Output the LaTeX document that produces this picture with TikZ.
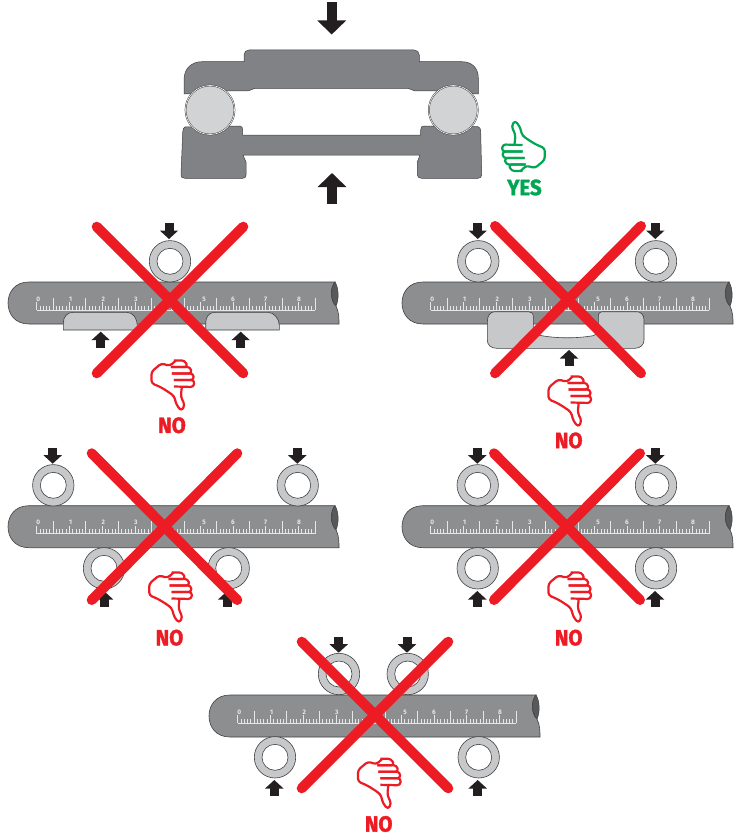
\documentclass[tikz,border=0pt]{standalone}
\usepackage{fontspec}
\setmainfont{Fira Sans}
\newfontfamily\verdictfont{Fira Sans Bold}[FakeBold=1.6,FakeStretch=0.93]
\usepackage{xcolor}
\usepackage{tikz}
\usetikzlibrary{arrows.meta}
\definecolor{plategray}{HTML}{808285}
\definecolor{shaftgray}{HTML}{8C8E90}
\definecolor{ballgray}{HTML}{D1D3D4}
\definecolor{ringgray}{HTML}{C7C8CA}
\definecolor{edgedark}{HTML}{414042}
\definecolor{breakdark}{HTML}{58595B}
\definecolor{arrowblack}{HTML}{231F20}
\definecolor{tickwhite}{HTML}{E6E7E8}
\definecolor{noaccent}{HTML}{ED1C24}
\definecolor{yesaccent}{HTML}{00A651}
\tikzset{
  plate/.style={draw=edgedark, line width=0.5pt, fill=plategray},
  ball/.style={circle, draw=edgedark, line width=0.5pt, fill=ballgray, double=white, minimum size=49pt, inner sep=0pt},
  support/.style={draw=edgedark, line width=0.6pt, fill=ringgray},
  bigarrow/.style={-{Triangle[length=14pt,width=28pt]}, line width=10pt, arrowblack},
  pressarrow/.style={-{Triangle[length=8.5pt,width=18pt]}, line width=9pt, arrowblack},
  crossline/.style={line width=10pt, noaccent, line cap=round},
  rulenum/.style={font=\fontsize{6.5}{7}\selectfont\bfseries, text=tickwhite, inner sep=0pt},
  verdict/.style={font=\fontsize{22}{23}\verdictfont, inner sep=0pt},
  pics/shaftbar/.style={code={
    \draw[draw=edgedark, line width=0.6pt, fill=shaftgray] (21,0) -- (327,0)
      .. controls (322,6) and (322,18) .. (328,24)
      .. controls (331,30) and (331,36) .. (331,42)
      -- (21,42) .. controls (7,42) and (0,32) .. (0,21)
      .. controls (0,10) and (7,0) .. (21,0) -- cycle;
    \draw[draw=edgedark, line width=0.5pt, fill=breakdark] (327,0)
      .. controls (322,6) and (322,18) .. (328,24)
      .. controls (331,18) and (331,6) .. (327,0) -- cycle;
    \draw[tickwhite, line width=1pt] (28.7,28) -- (307,28);
    \foreach \i in {0,...,85} {
      \pgfmathsetmacro{\tickx}{28.7+\i*3.274}
      \pgfmathsetmacro{\ticktop}{ifthenelse(mod(\i,10)==0,20,ifthenelse(mod(\i,5)==0,15.5,23.5))}
      \draw[tickwhite, line width=0.8pt] (\tickx,28) -- (\tickx,\ticktop);
    }
    \foreach \numx/\numt in {30.3/0,62.7/1,95.3/2,127.7/3,196/5,225/6,257.7/7,291/8}
      \node[rulenum] (num\numt) at (\numx,17) {\numt};
  }},
  pics/ringpart/.style={code={
    \draw[draw=edgedark, line width=0.6pt, fill=ringgray] (0,0) circle[radius=20.7pt];
    \draw[draw=edgedark, line width=0.6pt, fill=white] (0,0) circle[radius=13pt];
  }},
  thumbline/.style={line width=2.2pt, rounded corners=3pt, line join=round},
  pics/thumb/.style={code={
    % thumb, back of the hand and wrist
    \draw[thumbline] (-9,-2) -- (-8,-11.7) -- (-12,-20) -- (-8.7,-26) -- (-3.7,-20) -- (-1.3,-11)
      -- (6.3,-5.7) -- (13,-1.7) -- (21.3,1.7) -- (21.3,13.3) -- (11.3,21.7) -- (3,19) -- (-3,24.5);
    % fingers
    \draw[thumbline] (-1,-1.5) -- (-21,-2) -- (-21.5,5) -- (-1,5);
    \draw[thumbline] (-1,5) -- (-21,5) -- (-20.5,11.5) -- (1,11.5);
    \draw[thumbline] (1,11.5) -- (-19,11.5) -- (-17.5,18) -- (2,18);
    \draw[thumbline] (2,18) -- (-15,18) -- (-12,24.5) -- (-1,24.5);
  }}
}
\begin{document}
\begin{tikzpicture}[x=1pt,y=-1pt]
  \useasboundingbox[fill=white] (0,0) rectangle (750,840);

  % top bearing
  \draw[bigarrow] (331.7,2) -- (331.7,34.5);
  \draw[bigarrow] (332,204) -- (332,173);
  \draw[plate] (184,94) -- (184,80)
    .. controls (184,68) and (192,61.7) .. (202,61.7)
    -- (244,61.7) -- (244,55) .. controls (244,52) and (246,50) .. (249,50)
    -- (414,50) .. controls (417,50) and (419.3,52) .. (419.3,55) -- (419.3,61.7) -- (461.7,61.7)
    .. controls (472,61.7) and (478.3,68) .. (478.3,78) -- (478.3,94) -- (470,94) -- (440,91)
    -- (415,91) -- (408,88.3) -- (255,88.3) -- (248,91) -- (227,91) -- (190,94) -- cycle;
  \draw[plate] (185,127) -- (240,126) .. controls (242,126) and (242.7,128) .. (242.7,130)
    -- (242.7,135) -- (420.7,135) -- (420.7,130) .. controls (420.7,127) and (422,126) .. (424,126)
    -- (478,126.7) .. controls (480,127) and (480.7,129) .. (480.7,132)
    -- (481.7,175) .. controls (481.7,177) and (480,178.3) .. (478,178.3)
    -- (421.7,178.3) .. controls (419,178.3) and (417.3,177) .. (417.3,175)
    -- (417.3,162) -- (420,155) -- (243,155) -- (246,162) -- (246,175)
    .. controls (246,177) and (245,178.3) .. (242.7,178.3)
    -- (185,178.3) .. controls (182,178.3) and (181,177) .. (181,175)
    -- (182.7,132) .. controls (183,129) and (184,127) .. (185,127) -- cycle;
  \node[ball] (ballL) at (210,110) {};
  \node[ball] (ballR) at (453.3,110) {};
  \pic[yesaccent] at (523.5,146.5) {thumb};
  \node[verdict, text=yesaccent] (yes) at (524.5,187.5) {YES};

  % first row, left
  \pic at (8,282) {shaftbar};
  \draw[support] (63.3,330) -- (63.3,323) .. controls (63.3,317) and (67,312.3) .. (73,312.3)
    -- (127,312.3) .. controls (133,312.3) and (137.3,319) .. (137.3,325) -- (137.3,330) -- cycle;
  \draw[support] (205.7,330) -- (205.7,323) .. controls (205.7,317) and (209,312.3) .. (215,312.3)
    -- (268,312.3) .. controls (274,312.3) and (279.3,319) .. (279.3,325) -- (279.3,330) -- cycle;
  \pic at (170,261.3) {ringpart};
  \draw[pressarrow] (169,223) -- (169,239);
  \draw[pressarrow] (100.7,347.7) -- (100.7,331.7);
  \draw[pressarrow] (240.7,347.7) -- (240.7,331.7);
  \draw[crossline] (96.7,226.7) -- (243.3,373.3);
  \draw[crossline] (243.3,226.7) -- (96.7,373.3);
  \pic[noaccent, rotate=180] at (172.8,385) {thumb};
  \node[verdict, text=noaccent] (noA) at (172,425.3) {NO};

  % first row, right
  \pic at (402,282) {shaftbar};
  \draw[support] (495,311.7) .. controls (490,311.7) and (487.3,316) .. (487.3,321.7) -- (487.3,340)
    .. controls (487.3,345) and (491,348.3) .. (496.7,348.3) -- (635,348.3)
    .. controls (640,348.3) and (644,345) .. (644,340) -- (644,320)
    .. controls (644,315) and (641,311.7) .. (636.7,311.7) -- (603.3,311.7)
    .. controls (600,311.7) and (598.3,313) .. (598.3,316.7) -- (598.3,328.3)
    .. controls (598.3,333) and (596,335) .. (593.3,335.7) .. controls (576,338.5) and (558,338.5) .. (541.7,335.7)
    .. controls (537,335) and (533.3,333) .. (533.3,328.3) -- (533.3,316.7)
    .. controls (533.3,313) and (531,311.7) .. (528.3,311.7) -- cycle;
  \pic at (478.3,261.3) {ringpart};
  \pic at (656,261.3) {ringpart};
  \draw[pressarrow] (477.7,223) -- (477.7,239);
  \draw[pressarrow] (655.3,223) -- (655.3,239);
  \draw[pressarrow] (569,366) -- (569,350);
  \draw[crossline] (495,226) -- (641,373.3);
  \draw[crossline] (641,226) -- (495,373.3);
  \pic[noaccent, rotate=180] at (569.7,401) {thumb};
  \node[verdict, text=noaccent] (noB) at (568.7,440.5) {NO};

  % second row, left
  \pic at (8,505.7) {shaftbar};
  \pic at (53.3,485.3) {ringpart};
  \pic at (297.7,485.3) {ringpart};
  \pic at (104,568.3) {ringpart};
  \pic at (228.7,568.3) {ringpart};
  \draw[pressarrow] (52.7,447.7) -- (52.7,463.7);
  \draw[pressarrow] (297.3,447.7) -- (297.3,463.7);
  \draw[pressarrow] (104,606.7) -- (104,591);
  \draw[pressarrow] (227.3,606.7) -- (227.3,591);
  \draw[crossline] (91.7,453.3) -- (237.3,600);
  \draw[crossline] (237.3,453.3) -- (91.7,600);
  \pic[noaccent, rotate=180] at (170.5,597) {thumb};
  \node[verdict, text=noaccent] (noC) at (169.5,637.7) {NO};

  % second row, right
  \pic at (402,505.7) {shaftbar};
  \pic at (477.7,485.3) {ringpart};
  \pic at (656,485.3) {ringpart};
  \pic at (477.7,568.3) {ringpart};
  \pic at (656,568.3) {ringpart};
  \draw[pressarrow] (477.3,447.7) -- (477.3,463.7);
  \draw[pressarrow] (655.3,447.7) -- (655.3,463.7);
  \draw[pressarrow] (477.3,606.7) -- (477.3,591);
  \draw[pressarrow] (655,606.7) -- (655,591);
  \draw[crossline] (494,453.3) -- (640,600);
  \draw[crossline] (640,453.3) -- (494,600);
  \pic[noaccent, rotate=180] at (569.7,597) {thumb};
  \node[verdict, text=noaccent] (noD) at (568.7,637.7) {NO};

  % bottom row
  \pic at (209,695) {shaftbar};
  \pic at (339,674) {ringpart};
  \pic at (407.7,674) {ringpart};
  \pic at (275,757.3) {ringpart};
  \pic at (478.7,757.3) {ringpart};
  \draw[pressarrow] (338.7,636.7) -- (338.7,652.7);
  \draw[pressarrow] (407,636.7) -- (407,652.7);
  \draw[pressarrow] (274.3,795.7) -- (274.3,780);
  \draw[pressarrow] (477.7,795.7) -- (477.7,780);
  \draw[crossline] (301.7,641.7) -- (448.3,788.3);
  \draw[crossline] (448.3,641.7) -- (301.7,788.3);
  \pic[noaccent, rotate=180] at (379.3,783.3) {thumb};
  \node[verdict, text=noaccent] (noE) at (378.7,824) {NO};
\end{tikzpicture}
\end{document}
